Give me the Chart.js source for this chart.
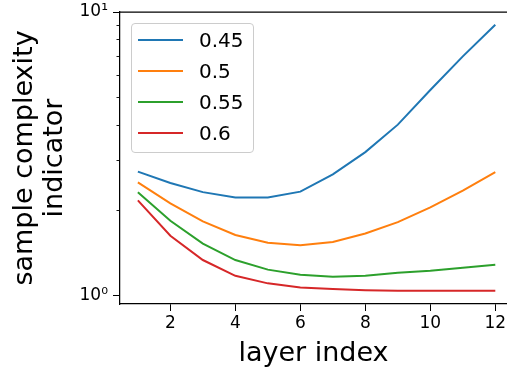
<!DOCTYPE html>
<html>
<head>
<meta charset="utf-8">
<script src="https://cdn.jsdelivr.net/npm/chart.js@4"></script>
<style>
  html, body { margin: 0; padding: 0; background: #fff; overflow: hidden; }
  #wrap { position: relative; width: 507px; height: 373px; }
  #legend {
    position: absolute; left: 131px; top: 23px; width: 123px; height: 130px;
    border: 1px solid #cccccc; border-radius: 4px; background: rgba(255,255,255,0.8);
    font-family: "DejaVu Sans", sans-serif; font-size: 20px; color: #000;
    box-sizing: border-box;
  }
  .row { position: absolute; left: 0; height: 24px; line-height: 24px; }
  .row span.ln { position: absolute; left: 6px; top: 11px; width: 45px; height: 2px; }
  .row span.tx { position: absolute; left: 67px; top: 0; white-space: nowrap; }
</style>
</head>
<body>
<div id="wrap">
  <canvas id="chart" width="507" height="373"></canvas>
  <div id="legend"></div>
</div>
<script>
console.log("chart start");

const layers = [1, 2, 3, 4, 5, 6, 7, 8, 9, 10, 11, 12];
const seriesNames = ["0.45", "0.5", "0.55", "0.6"];
const vals045 = [2.73, 2.49, 2.31, 2.21, 2.21, 2.32, 2.67, 3.20, 4.00, 5.30, 6.97, 9.02];
const vals05  = [2.50, 2.11, 1.82, 1.63, 1.53, 1.50, 1.54, 1.65, 1.81, 2.04, 2.34, 2.72];
const vals055 = [2.31, 1.83, 1.52, 1.33, 1.23, 1.18, 1.16, 1.17, 1.20, 1.22, 1.25, 1.28];
const vals06  = [2.16, 1.62, 1.33, 1.17, 1.10, 1.064, 1.05, 1.04, 1.036, 1.035, 1.035, 1.035];
const xTicks = [2, 4, 6, 8, 10, 12];
const yMajor = [1, 10];
const yMinor = [2, 3, 4, 5, 6, 7, 8, 9];
const yLabels = { 1: "10\u2070", 10: "10\u00b9" };

const colors = ["#1f77b4", "#ff7f0e", "#2ca02c", "#d62728"];
const allVals = [vals045, vals05, vals055, vals06];

/* axis decorations: top spine + short minor ticks */
const frame = {
  id: "frame",
  afterDraw(chart) {
    const { ctx, chartArea } = chart;
    const y = chart.scales.y;
    ctx.save();
    ctx.strokeStyle = "#000";
    ctx.lineWidth = 1.25;
    ctx.beginPath();
    ctx.moveTo(chartArea.left, Math.round(chartArea.top));
    ctx.lineTo(chartArea.right, Math.round(chartArea.top));
    ctx.stroke();
    ctx.lineWidth = 0.9;
    yMinor.forEach(v => {
      const py = Math.round(y.getPixelForValue(v)) + 0.5;
      ctx.beginPath();
      ctx.moveTo(chartArea.left - 3.5, py);
      ctx.lineTo(chartArea.left, py);
      ctx.stroke();
    });
    ctx.restore();
  }
};

new Chart(document.getElementById("chart"), {
  type: "line",
  data: {
    datasets: seriesNames.map((name, i) => ({
      label: name,
      data: layers.map((x, j) => ({ x, y: allVals[i][j] })),
      borderColor: colors[i],
      borderWidth: 2,
      pointRadius: 0,
      tension: 0,
      fill: false
    }))
  },
  options: {
    responsive: false,
    animation: false,
    layout: { padding: { top: 12, right: 0, left: 0, bottom: 0 } },
    plugins: { legend: { display: false }, tooltip: { enabled: false } },
    scales: {
      x: {
        type: "linear",
        min: 0.45,
        max: 12.36,
        afterBuildTicks: s => { s.ticks = xTicks.map(v => ({ value: v })); },
        afterFit: s => { s.height = 69; s.paddingLeft = 0; s.paddingRight = 0; },
        grid: { drawOnChartArea: false, tickLength: 7, color: "#000", tickColor: "#000" },
        border: { color: "#000", width: 1.25 },
        ticks: { color: "#000", font: { family: "DejaVu Sans", size: 17 }, padding: 2, maxRotation: 0 },
        title: {
          display: true, text: "layer index", color: "#000",
          font: { family: "DejaVu Sans", size: 27, lineHeight: 1.2 },
          padding: { top: 0, bottom: 3 }
        }
      },
      y: {
        type: "logarithmic",
        min: 0.93,
        max: 10,
        afterBuildTicks: s => { s.ticks = yMajor.map(v => ({ value: v })); },
        afterFit: s => { s.width = 120; s.paddingTop = 0; s.paddingBottom = 0; },
        grid: { drawOnChartArea: false, tickLength: 7, color: "#000", tickColor: "#000" },
        border: { color: "#000", width: 1.25 },
        ticks: {
          color: "#000", font: { family: "DejaVu Sans", size: 17 }, padding: 5,
          callback: v => yLabels[v] || ""
        },
        title: {
          display: true, text: ["sample complexity", "indicator"], color: "#000",
          font: { family: "DejaVu Sans", size: 27, lineHeight: 1.1 },
          padding: { top: 10, bottom: 0 }
        }
      }
    }
  },
  plugins: [frame]
});

/* legend */
const legend = document.getElementById("legend");
seriesNames.forEach((name, i) => {
  const row = document.createElement("div");
  row.className = "row";
  row.style.top = (4 + i * 31) + "px";
  row.innerHTML = `<span class="ln" style="background:${colors[i]}"></span><span class="tx">${name}</span>`;
  legend.appendChild(row);
});
</script>
</body>
</html>
